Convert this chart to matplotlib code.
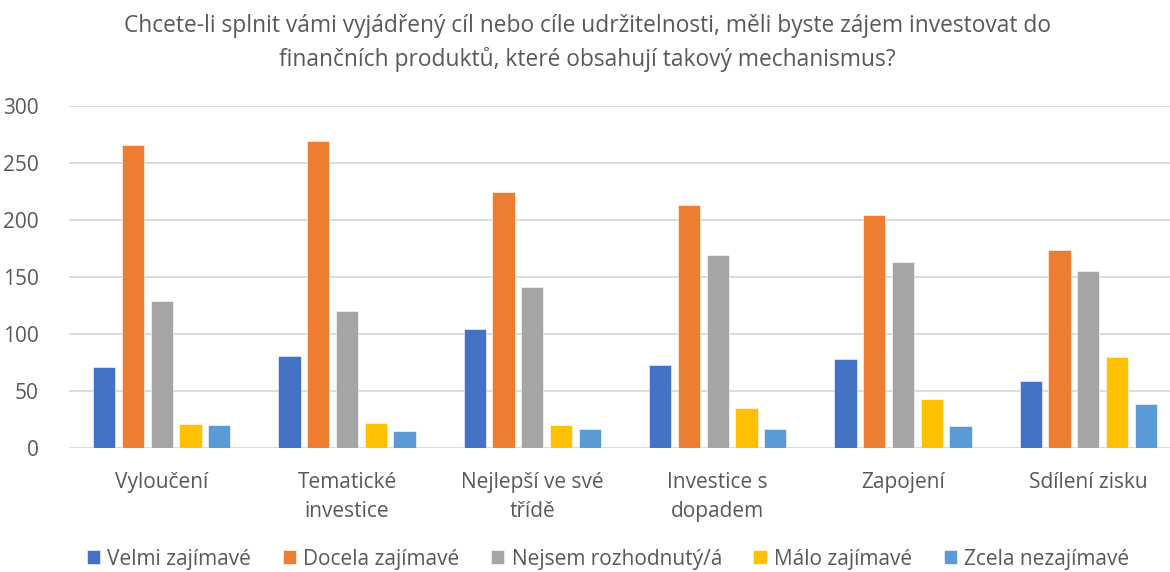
import matplotlib
matplotlib.use("Agg")
import matplotlib.pyplot as plt
import numpy as np

plt.rcParams['font.family'] = ['Open Sans', 'DejaVu Sans']

title = ("Chcete-li splnit vámi vyjádřený cíl nebo cíle udržitelnosti, měli byste zájem investovat do\n"
         "finančních produktů, které obsahují takový mechanismus?")
categories = ["Vyloučení", "Tematické\ninvestice", "Nejlepší ve své\ntřídě",
              "Investice s\ndopadem", "Zapojení", "Sdílení zisku"]
series_names = ["Velmi zajímavé", "Docela zajímavé", "Nejsem rozhodnutý/á",
                "Málo zajímavé", "Zcela nezajímavé"]
velmi = [71, 81, 104, 73, 78, 59]
docela = [266, 269, 225, 213, 204, 174]
nejsem = [129, 120, 141, 169, 163, 155]
malo = [21, 22, 20, 35, 43, 80]
zcela = [20, 15, 17, 17, 19, 39]
series = [velmi, docela, nejsem, malo, zcela]
colors = ["#4472C4", "#ED7D31", "#A5A5A5", "#FFC000", "#5B9BD5"]
yticks = [0, 50, 100, 150, 200, 250, 300]

W, H = 1170, 572
fig = plt.figure(figsize=(W/100, H/100), dpi=100)
ax = fig.add_axes([69/W, 1-448/H, (1181-69)/W, (448-106)/H])

x = np.arange(len(categories))
step = 0.155
width = 0.12
for i, (vals, c, n) in enumerate(zip(series, colors, series_names)):
    ax.bar(x + (i-2)*step, vals, width=width, color=c, label=n,
           edgecolor="white", linewidth=0.4, zorder=3)

ax.set_xlim(-0.5, len(categories)-0.5)
ax.set_ylim(0, 300)
ax.set_yticks(yticks)
ax.set_yticklabels([str(v) for v in yticks])
ax.yaxis.grid(True, color="#D9D9D9", linewidth=1.3, zorder=0)
ax.set_axisbelow(True)
for s in ["top", "right", "left", "bottom"]:
    ax.spines[s].set_visible(False)
ax.tick_params(axis="y", length=0, pad=22, labelsize=15, labelcolor="#595959")
ax.tick_params(axis="x", length=0, pad=17, labelsize=15, labelcolor="#595959")
ax.set_xticks(x)
ax.set_xticklabels(categories, linespacing=1.5)

fig.text(587/W, 1-43/H, title, ha="center", va="center", fontsize=16.4,
         color="#595959", linespacing=1.45)

leg = fig.legend(loc="center", bbox_to_anchor=(608/W, 1-559/H), ncol=5,
                 frameon=False, fontsize=15, handlelength=0.65, handleheight=0.65,
                 handletextpad=0.35, columnspacing=1.5, labelcolor="#595959")

fig.savefig("out.png", dpi=100)
